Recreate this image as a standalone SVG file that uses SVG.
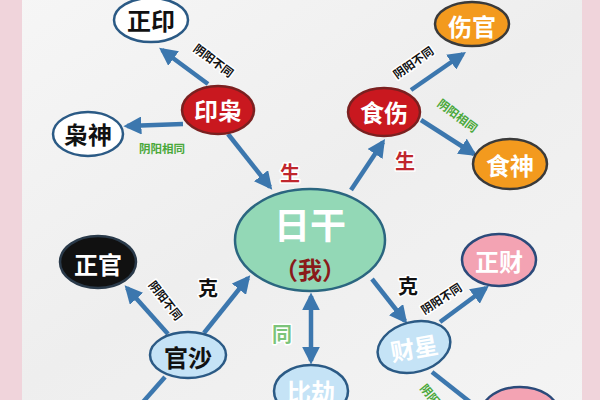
<svg xmlns="http://www.w3.org/2000/svg" width="600" height="400" viewBox="0 0 600 400">
<defs>
<marker id="ah" viewBox="0 0 10 10" refX="8" refY="5" markerWidth="4" markerHeight="4" orient="auto-start-reverse" markerUnits="strokeWidth">
<path d="M0,0 L10,5 L0,10 z" fill="#3c77ae"/>
</marker>
<linearGradient id="bg" x1="0" y1="0" x2="1" y2="1">
<stop offset="0" stop-color="#f6f6f6"/>
<stop offset="0.5" stop-color="#eeeeee"/>
<stop offset="1" stop-color="#f4f4f4"/>
</linearGradient>
</defs>
<style>
.t{font-family:"Noto Sans CJK SC","Noto Sans",sans-serif;font-weight:bold;text-anchor:middle;dominant-baseline:central}
.nt{font-size:24px}
.lb{font-size:11.5px;fill:#111}
.lg{font-size:11.5px;fill:#4aa83a}
.ol{stroke:#ffffff;stroke-width:3;paint-order:stroke;stroke-linejoin:round}
.c{stroke:#3c77ae;stroke-width:4.5;fill:none}
.e{stroke-width:2.5}
</style>
<rect x="0" y="0" width="600" height="400" fill="url(#bg)"/>
<rect x="0" y="0" width="22" height="400" fill="#f0d4db"/>
<rect x="582" y="0" width="18" height="400" fill="#f0d4db"/>

<g id="connectors">
<line class="c" x1="208" y1="84" x2="162" y2="50" marker-end="url(#ah)"/>
<line class="c" x1="183" y1="124" x2="127" y2="126" marker-end="url(#ah)"/>
<line class="c" x1="228" y1="134" x2="270" y2="187" marker-end="url(#ah)"/>
<line class="c" x1="351" y1="190" x2="383" y2="142" marker-end="url(#ah)"/>
<line class="c" x1="411" y1="90" x2="463" y2="54" marker-end="url(#ah)"/>
<line class="c" x1="421" y1="120" x2="474" y2="154" marker-end="url(#ah)"/>
<line class="c" x1="204" y1="333" x2="248" y2="278" marker-end="url(#ah)"/>
<line class="c" x1="168" y1="334" x2="127" y2="288" marker-end="url(#ah)"/>
<line class="c" x1="311" y1="296" x2="311" y2="361" marker-start="url(#ah)" marker-end="url(#ah)"/>
<line class="c" x1="372" y1="279" x2="405" y2="321" marker-end="url(#ah)"/>
<line class="c" x1="440" y1="322" x2="486" y2="288" marker-end="url(#ah)"/>
<line class="c" x1="432" y1="372" x2="470" y2="402"/>
<line class="c" x1="165" y1="377" x2="143" y2="402"/>
</g>

<g id="n-zhengyin">
<ellipse class="e" cx="151" cy="20" rx="37" ry="22" fill="#ffffff" stroke="#2b5a85"/>
<text class="t nt" x="151" y="19" fill="#111">正印</text>
</g>
<g id="n-yinxiao">
<ellipse class="e" cx="218" cy="110" rx="36" ry="24" fill="#c9181f" stroke="#7a2020"/>
<text class="t nt" x="218" y="109" fill="#ffffff">印枭</text>
</g>
<g id="n-xiaoshen">
<ellipse class="e" cx="88" cy="134" rx="35" ry="22" fill="#ffffff" stroke="#2b5a85"/>
<text class="t nt" x="88" y="133" fill="#111">枭神</text>
</g>
<g id="n-shishang">
<ellipse class="e" cx="384" cy="112" rx="36" ry="24" fill="#c9181f" stroke="#7a2020"/>
<text class="t nt" x="384" y="111" fill="#ffffff">食伤</text>
</g>
<g id="n-shangguan">
<ellipse class="e" cx="472" cy="24" rx="37" ry="22" fill="#f39a1e" stroke="#3a3a3a"/>
<text class="t nt" x="472" y="25" fill="#ffffff">伤官</text>
</g>
<g id="n-shishen">
<ellipse class="e" cx="510" cy="164" rx="37" ry="25" fill="#f39a1e" stroke="#3a3a3a"/>
<text class="t nt" x="510" y="164" fill="#ffffff">食神</text>
</g>
<g id="n-rigan">
<ellipse class="e" cx="310" cy="240" rx="75" ry="51" fill="#93d8b6" stroke="#2b6680"/>
<text class="t" x="310" y="223" font-size="36" fill="#ffffff">日干</text>
<text class="t" x="310" y="268" font-size="24" fill="#8a1a1a">（我）</text>
</g>
<g id="n-zhengguan">
<ellipse class="e" cx="98" cy="262" rx="38" ry="26" fill="#111111" stroke="#2a3a4a"/>
<text class="t nt" x="98" y="263" fill="#ffffff">正官</text>
</g>
<g id="n-guansha">
<ellipse class="e" cx="188" cy="355" rx="38" ry="23" fill="#c5e3f6" stroke="#2b5a85"/>
<text class="t nt" x="188" y="356" fill="#111">官沙</text>
</g>
<g id="n-bijie">
<ellipse class="e" cx="311" cy="391" rx="37" ry="26" fill="#c5e3f6" stroke="#2b5a85"/>
<text class="t nt" x="311" y="390" fill="#ffffff">比劫</text>
</g>
<g id="n-zhengcai">
<ellipse class="e" cx="499" cy="260" rx="37" ry="26" fill="#f3a3b3" stroke="#2b4a7a"/>
<text class="t nt" x="499" y="260" fill="#ffffff">正财</text>
</g>
<g id="n-caixing">
<ellipse class="e" cx="414" cy="347" rx="37" ry="25" fill="#c5e3f6" stroke="#2b5a85" transform="rotate(-15 414 347)"/>
<text class="t nt" x="414" y="347" fill="#ffffff" transform="rotate(-10 414 347)">财星</text>
</g>
<g id="n-piancai">
<ellipse class="e" cx="520" cy="412" rx="38" ry="25" fill="#f3a3b3" stroke="#2b4a7a"/>
</g>

<g id="labels">
<text class="t lb ol" x="214" y="60" transform="rotate(37 214 60)">阴阳不同</text>
<text class="t lg" x="162" y="148">阴阳相同</text>
<text class="t lb ol" x="413" y="62" transform="rotate(-35 413 62)">阴阳不同</text>
<text class="t lg" x="458" y="115" transform="rotate(37 458 115)">阴阳相同</text>
<text class="t lb ol" x="166" y="300" transform="rotate(52 166 300)">阴阳不同</text>
<text class="t lb ol" x="441" y="298" transform="rotate(-33 441 298)">阴阳不同</text>
<text class="t lg" x="438" y="403" transform="rotate(50 438 403)">阴阳相同</text>
<text class="t ol" x="290" y="172" font-size="20" fill="#c0262d">生</text>
<text class="t ol" x="405" y="160" font-size="20" fill="#c0262d">生</text>
<text class="t ol" x="208" y="287" font-size="20" fill="#111">克</text>
<text class="t ol" x="408" y="285" font-size="20" fill="#111">克</text>
<text class="t ol" x="282" y="333" font-size="20" fill="#7cc47a">同</text>
</g>
</svg>
